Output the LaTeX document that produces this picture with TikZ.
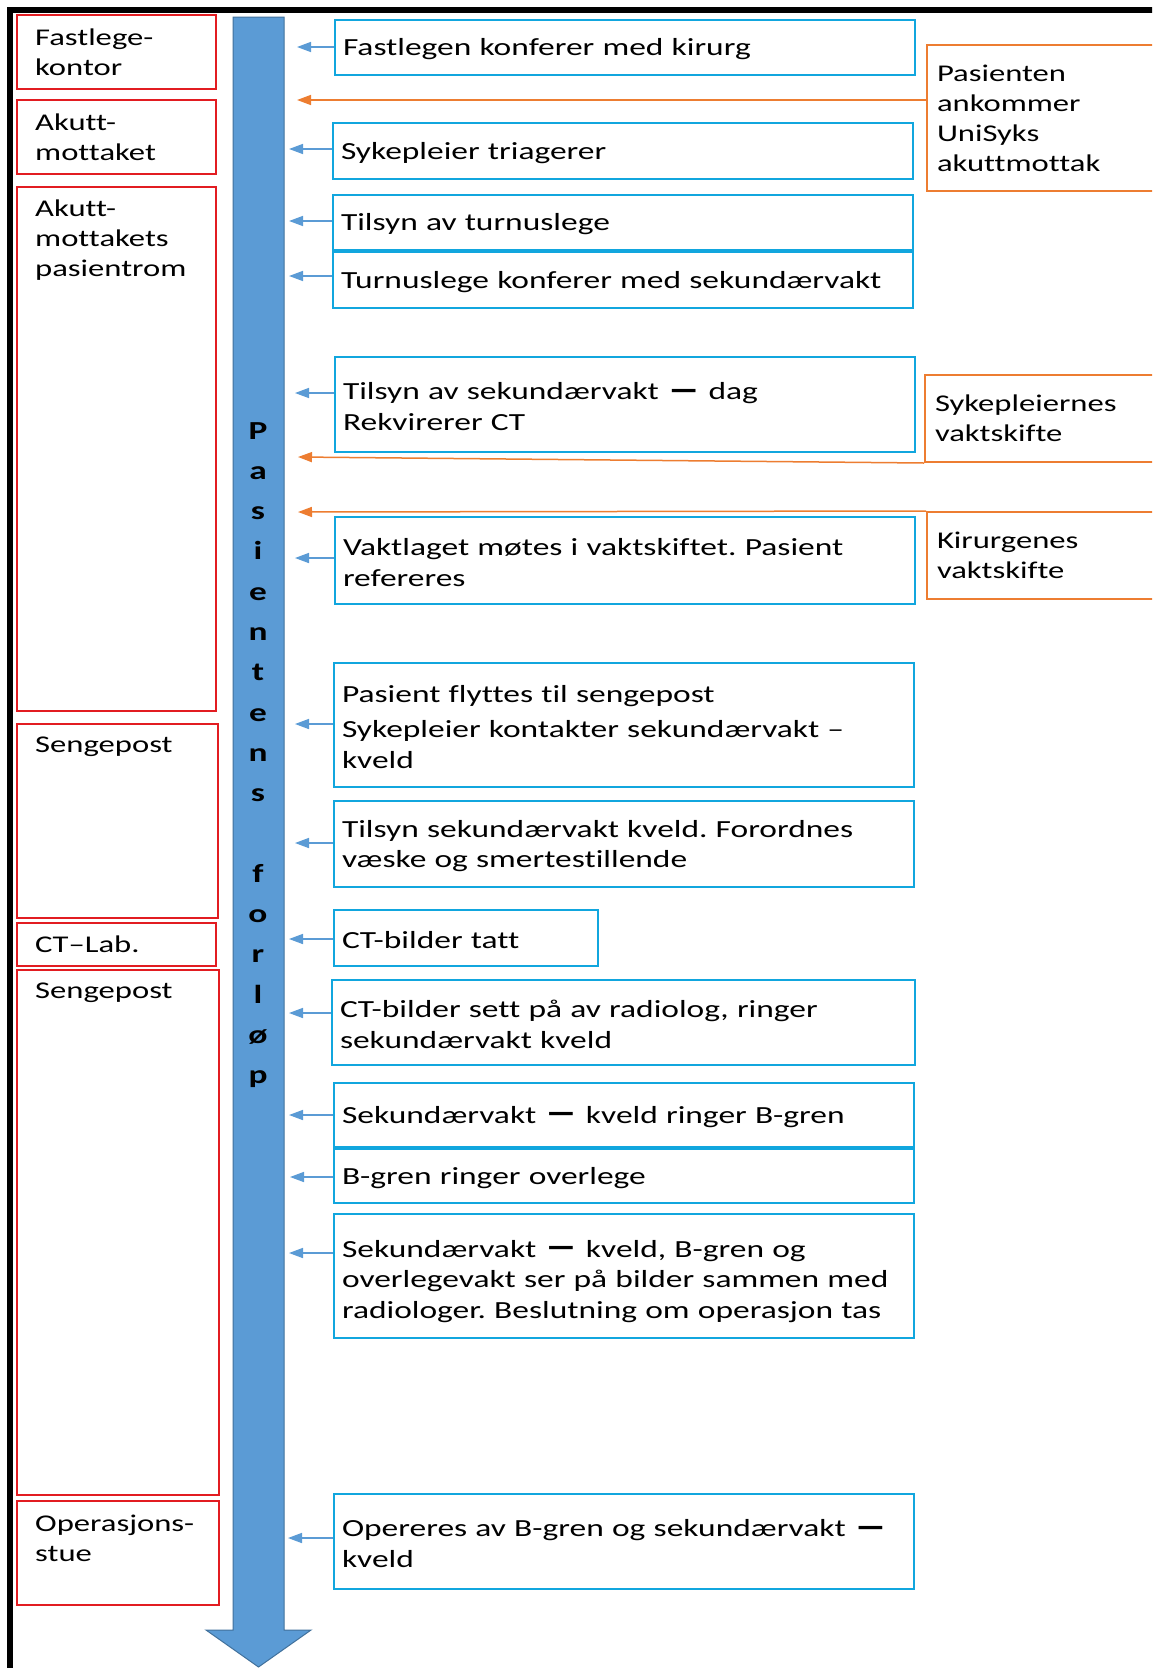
\documentclass[tikz,border=0pt]{standalone}
\usepackage{graphicx}
\usepackage{fontspec}
\setmainfont{Carlito}[FakeStretch=1.36, Ligatures=NoCommon]
\frenchspacing
\usetikzlibrary{arrows.meta,calc}
\definecolor{redc}{RGB}{226,28,33}
\definecolor{bluebox}{RGB}{17,166,222}
\definecolor{orangec}{RGB}{237,125,49}
\definecolor{arrowfill}{RGB}{91,155,213}
\definecolor{arrowedge}{RGB}{65,113,156}
\newcommand{\hdash}{\raisebox{-1.5pt}{\scalebox{2}[1.5]{\bfseries –}}}
\tikzset{
  txt/.style={font=\fontsize{24}{30}\selectfont},
  btxt/.style={font=\fontsize{24.6}{30.5}\selectfont},
  placebox/.style={draw=redc, line width=2pt, anchor=north west, inner sep=0pt},
  placetext/.style={txt, anchor=north west, inner sep=0pt, align=left},
  stepbox/.style={btxt, draw=bluebox, line width=2pt, anchor=north west, inner xsep=8pt, inner ysep=0pt, align=left, minimum width=580pt, text width=564pt, execute at begin node={\rule{0pt}{21pt}}},
  eventbox/.style={txt, draw=orangec, line width=2pt, anchor=north west, inner xsep=10pt, inner ysep=0pt, align=left, minimum width=250pt, text width=230pt},
  flowarrow/.style={draw=arrowfill, line width=1.5pt, -{Triangle[length=14pt,width=10pt]}},
  eventarrow/.style={draw=orangec, line width=1.5pt, -{Triangle[length=14pt,width=10pt]}},
  letter/.style={anchor=base, inner sep=0pt, font=\fontsize{26}{30}\selectfont\bfseries}
}
\begin{document}
\begin{tikzpicture}[x=1pt,y=-1pt]
\useasboundingbox (0,0) rectangle (1152,1668);
\fill[white] (0,0) rectangle (1152,1668);
\clip (0,0) rectangle (1152,1668);

% frame
\draw[line width=6pt] (10,1675) -- (10,10) -- (1160,10);

% big flow arrow
\filldraw[fill=arrowfill, draw=arrowedge, line width=1pt]
  (233,17) -- (284,17) -- (284,1630) -- (311,1630) -- (258.5,1667) -- (206,1630) -- (233,1630) -- cycle;
\foreach \ch [count=\k from 0] in {P,a,s,i,e,n,t,e,n,s,{},f,o,r,l,ø,p}
  \node[letter] (L\k) at (258,{439+40.3*\k}) {\ch};

% place boxes (red)
\node[placebox, minimum width=199pt, minimum height=74pt] (r1) at (16,14) {};
\node[placetext] (r1t) at (35,29) {Fastlege-\\kontor};
\node[placebox, minimum width=199pt, minimum height=74pt] (r2) at (16,99) {};
\node[placetext] (r2t) at (35,114) {Akutt-\\mottaket};
\node[placebox, minimum width=199pt, minimum height=524pt] (r3) at (16,186) {};
\node[placetext] (r3t) at (35,200) {Akutt-\\mottakets\\pasientrom};
\node[placebox, minimum width=201pt, minimum height=194pt] (r4) at (16,723) {};
\node[placetext] (r4t) at (35,737) {Sengepost};
\node[placebox, minimum width=199pt, minimum height=43pt] (r5) at (16,922) {};
\node[placetext] (r5t) at (35,936) {CT–Lab.};
\node[placebox, minimum width=202pt, minimum height=525pt] (r6) at (16,969) {};
\node[placetext] (r6t) at (35,983) {Sengepost};
\node[placebox, minimum width=202pt, minimum height=104pt] (r7) at (16,1500) {};
\node[placetext] (r7t) at (35,1515) {Operasjons-\\stue};

% step boxes (blue)
\node[stepbox, minimum height=55pt] (b1) at (334,19) {Fastlegen konferer med kirurg};
\node[stepbox, minimum height=56pt] (b2) at (332,122) {Sykepleier triagerer};
\node[stepbox, minimum height=55pt] (b3) at (332,194) {Tilsyn av turnuslege};
\node[stepbox, minimum height=56pt] (b4) at (332,251) {Turnuslege konferer med sekundærvakt};
\node[stepbox, minimum height=95pt] (b5) at (334,356) {Tilsyn av sekundærvakt \hdash{} dag\\Rekvirerer CT};
\node[stepbox, minimum height=87pt] (b6) at (334,516) {Vaktlaget møtes i vaktskiftet. Pasient\\refereres};
\node[stepbox, minimum height=124pt] (b7) at (333,662) {Pasient flyttes til sengepost\\[5pt]Sykepleier kontakter sekundærvakt –\\kveld};
\node[stepbox, minimum height=86pt] (b8) at (333,800) {Tilsyn sekundærvakt kveld. Forordnes\\væske og smertestillende};
\node[stepbox, minimum width=264pt, text width=248pt, minimum height=56pt] (b9) at (333,909) {CT-bilder tatt};
\node[stepbox, minimum width=583pt, text width=567pt, minimum height=85pt] (b10) at (331,979) {CT-bilder sett på av radiolog, ringer\\sekundærvakt kveld};
\node[stepbox, minimum height=64pt] (b11) at (333,1082) {Sekundærvakt \hdash{} kveld ringer B-gren};
\node[stepbox, minimum height=54pt] (b12) at (333,1148) {B-gren ringer overlege};
\node[stepbox, minimum height=124pt, execute at begin node={\rule{0pt}{28pt}}] (b13) at (333,1213) {Sekundærvakt \hdash{} kveld, B-gren og\\overlegevakt ser på bilder sammen med\\radiologer. Beslutning om operasjon tas};
\node[stepbox, minimum height=95pt] (b14) at (333,1493) {Opereres av B-gren og sekundærvakt \hdash\\kveld};

% event boxes (orange)
\node[eventbox, minimum height=146pt] (o1) at (926,44) {Pasienten\\ankommer\\UniSyks\\akuttmottak};
\node[eventbox, minimum height=87pt] (o2) at (924,374) {Sykepleiernes\\vaktskifte};
\node[eventbox, minimum height=87pt] (o3) at (926,511) {Kirurgenes\\vaktskifte};

% arrow tips
\coordinate (t1) at (297,47);
\coordinate (t2) at (289,149);
\coordinate (t3) at (289,221);
\coordinate (t4) at (289,276);
\coordinate (t5) at (295,393);
\coordinate (t6) at (295,558);
\coordinate (t7) at (295,724);
\coordinate (t8) at (295,843);
\coordinate (t9) at (289,939);
\coordinate (t10) at (289,1013);
\coordinate (t11) at (289,1115);
\coordinate (t12) at (290,1177);
\coordinate (t13) at (289,1253);
\coordinate (t14) at (288,1538);
\coordinate (e1) at (297,100);
\coordinate (e2) at (298,457);
\coordinate (e3) at (298,512);

\foreach \i in {1,...,14}
  \draw[flowarrow] (b\i.west |- t\i) -- (t\i);
\draw[eventarrow] (o1.west |- e1) -- (e1);
\draw[eventarrow] (o2.south west) -- (e2);
\draw[eventarrow] (o3.north west) -- (e3);
\end{tikzpicture}
\end{document}
